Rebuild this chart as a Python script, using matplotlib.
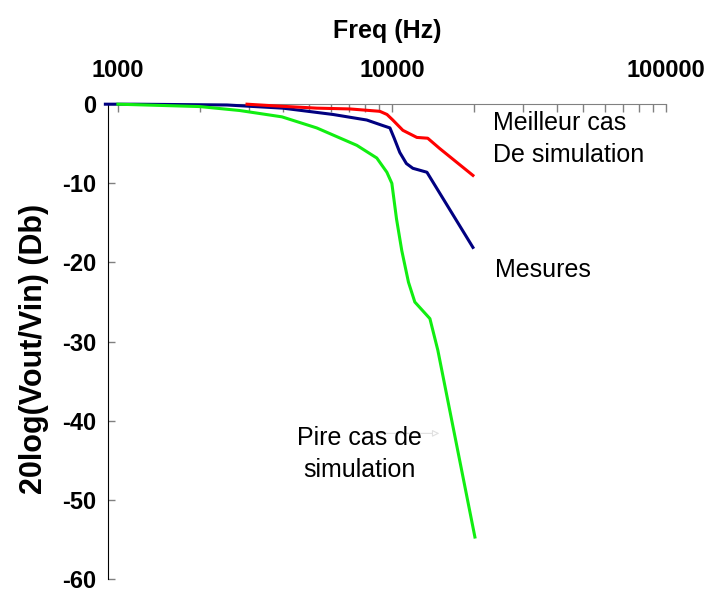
import numpy as np
import matplotlib.pyplot as plt
from matplotlib.ticker import LogLocator, FixedLocator

plt.rcParams['font.family'] = ['Liberation Sans', 'DejaVu Sans']

# Meilleur cas de simulation (rouge)
f_best = [2960, 3680, 5320, 7030, 9040, 9600, 10080, 10970, 12340, 13520, 14950, 19770]
db_best = [0.0, -0.2, -0.5, -0.6, -0.9, -1.3, -2.0, -3.3, -4.2, -4.3, -5.6, -9.0]

# Mesures (bleu)
f_meas = [900, 1150, 2500, 4000, 6100, 8100, 9270, 9840, 10200, 10690, 11300, 11930, 13430, 19770]
db_meas = [0.0, 0.0, -0.1, -0.5, -1.3, -2.0, -2.7, -3.0, -4.3, -6.1, -7.5, -8.1, -8.6, -18.1]

# Pire cas de simulation (vert)
f_worst = [1000, 1990, 2785, 3970, 5320, 7450, 8810, 9590, 10000, 10400, 10870, 11500,
           12130, 13770, 14720, 20100]
db_worst = [0.0, -0.3, -0.8, -1.6, -3.0, -5.2, -6.8, -8.6, -10.0, -14.5, -18.5, -22.5,
            -25.0, -27.1, -31.1, -54.7]

yticks = [0, -10, -20, -30, -40, -50, -60]
xticks = [1000, 10000, 100000]

fig = plt.figure(figsize=(7.19, 5.92), dpi=100)
ax = fig.add_axes([0.150, 0.022, 0.776, 0.802])

ax.plot(f_meas, db_meas, color='#000080', lw=2.2, clip_on=False, zorder=3)
ax.plot(f_best, db_best, color='#ff0000', lw=2.2, clip_on=False, zorder=4)
ax.plot(f_worst, db_worst, color='#11ee11', lw=2.2, clip_on=False, zorder=5)

ax.set_xscale('log')
ax.set_xlim(919, 100000)
ax.set_ylim(-60, 0)

ax.xaxis.set_ticks_position('top')
ax.xaxis.set_label_position('top')
ax.xaxis.set_major_locator(FixedLocator(xticks))
ax.xaxis.set_minor_locator(LogLocator(base=10, subs=np.arange(2, 10)))
ax.set_xticklabels([str(t) for t in xticks], fontsize=17, fontweight='bold')
ax.xaxis.set_minor_formatter(plt.NullFormatter())
ax.tick_params(axis='x', which='both', direction='in', length=6, width=1,
               color='#808080', pad=16)
ax.set_xlabel('Freq (Hz)', fontsize=18, fontweight='bold', labelpad=15)

ax.set_yticks(yticks)
ax.set_yticklabels([str(t) for t in yticks], fontsize=17, fontweight='bold')
ax.tick_params(axis='y', direction='in', length=5, width=1, color='#808080', pad=8)
ax.set_ylabel('20log(Vout/Vin) (Db)', fontsize=22, fontweight='bold', labelpad=8)
ax.yaxis.set_label_coords(-0.105, 0.484)

ax.spines['right'].set_visible(False)
ax.spines['bottom'].set_visible(False)
ax.spines['top'].set_color('#808080')
ax.spines['left'].set_color('black')

ax.text(23400, -0.9, 'Meilleur cas\nDe simulation', fontsize=18, ha='left', va='top',
        linespacing=1.4)
ax.text(23700, -21.0, 'Mesures', fontsize=18, ha='left', va='center')
ax.text(7640, -44.2, 'Pire cas de\nsimulation', fontsize=18, ha='center', va='center',
        linespacing=1.4)
ax.annotate('', xy=(15250, -41.6), xytext=(7850, -41.6),
            arrowprops=dict(arrowstyle='-|>', color='#e0e0e0', lw=0.8, fc='white'),
            zorder=1)

fig.savefig('out.png', dpi=100)
